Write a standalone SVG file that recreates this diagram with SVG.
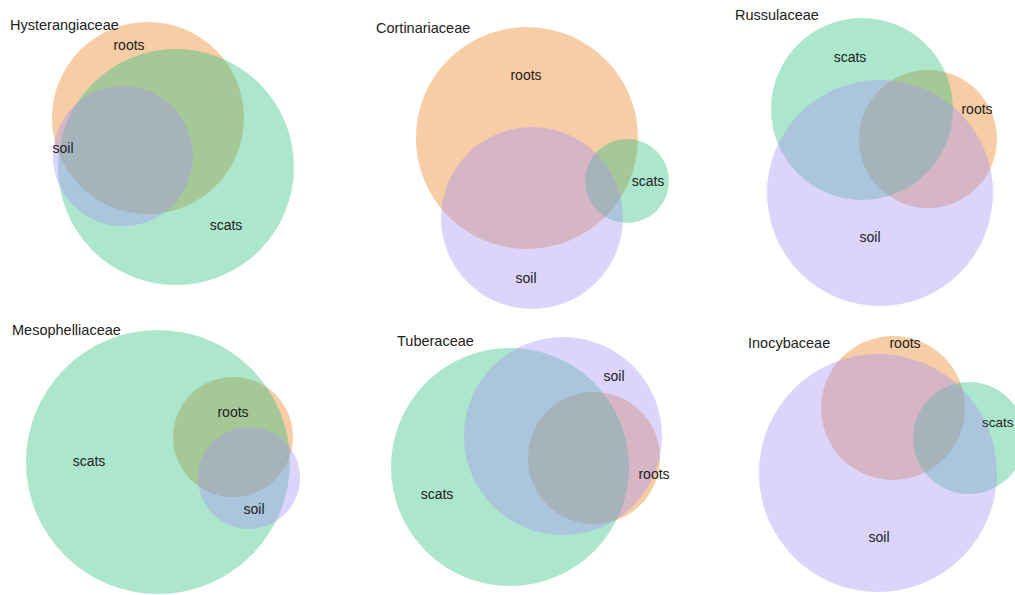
<svg xmlns="http://www.w3.org/2000/svg" width="1015" height="595" viewBox="0 0 1015 595">
<style>
text{font-family:"Liberation Sans",Arial,sans-serif;fill:#222}
.t{font-size:14.5px}
.l{font-size:14px;text-anchor:middle}
.r{fill:#E8821E;fill-opacity:.4}
.g{fill:#30C082;fill-opacity:.4}
.p{fill:#A793F2;fill-opacity:.4}
</style>
<rect width="1015" height="595" fill="#fff"/>
<g id="hysterangiaceae">
<circle class="r" cx="148" cy="118" r="96"/>
<circle class="g" cx="176" cy="167" r="118"/>
<circle class="p" cx="123" cy="156" r="70"/>
<text class="t" x="10" y="30">Hysterangiaceae</text>
<text class="l" x="129" y="50">roots</text>
<text class="l" x="63" y="153">soil</text>
<text class="l" x="226" y="230">scats</text>
</g>
<g id="cortinariaceae">
<circle class="r" cx="527" cy="138" r="111"/>
<circle class="g" cx="627" cy="181" r="42"/>
<circle class="p" cx="532" cy="218" r="91"/>
<text class="t" x="376" y="33">Cortinariaceae</text>
<text class="l" x="526" y="80">roots</text>
<text class="l" x="648" y="186">scats</text>
<text class="l" x="526" y="283">soil</text>
</g>
<g id="russulaceae">
<circle class="r" cx="928" cy="139" r="69"/>
<circle class="g" cx="862" cy="109" r="91"/>
<circle class="p" cx="880" cy="193" r="113"/>
<text class="t" x="735" y="20">Russulaceae</text>
<text class="l" x="850" y="62">scats</text>
<text class="l" x="977" y="114">roots</text>
<text class="l" x="870" y="242">soil</text>
</g>
<g id="mesophelliaceae">
<circle class="r" cx="233" cy="437" r="60"/>
<circle class="g" cx="158" cy="462" r="132"/>
<circle class="p" cx="249" cy="478" r="51"/>
<text class="t" x="12" y="335">Mesophelliaceae</text>
<text class="l" x="233" y="417">roots</text>
<text class="l" x="89" y="466">scats</text>
<text class="l" x="254" y="514">soil</text>
</g>
<g id="tuberaceae">
<circle class="r" cx="594" cy="458" r="66"/>
<circle class="g" cx="510" cy="467" r="119"/>
<circle class="p" cx="563" cy="436" r="99"/>
<text class="t" x="397" y="346">Tuberaceae</text>
<text class="l" x="614" y="381">soil</text>
<text class="l" x="654" y="479">roots</text>
<text class="l" x="437" y="499">scats</text>
</g>
<g id="inocybaceae">
<circle class="r" cx="893" cy="408" r="72"/>
<circle class="g" cx="969" cy="438" r="56"/>
<circle class="p" cx="878" cy="473" r="119"/>
<text class="t" x="748" y="348">Inocybaceae</text>
<text class="l" x="905" y="348">roots</text>
<text x="982" y="427" style="font-size:13.5px">scats</text>
<text class="l" x="879" y="542">soil</text>
</g>
<g id="connectors"/>
</svg>
